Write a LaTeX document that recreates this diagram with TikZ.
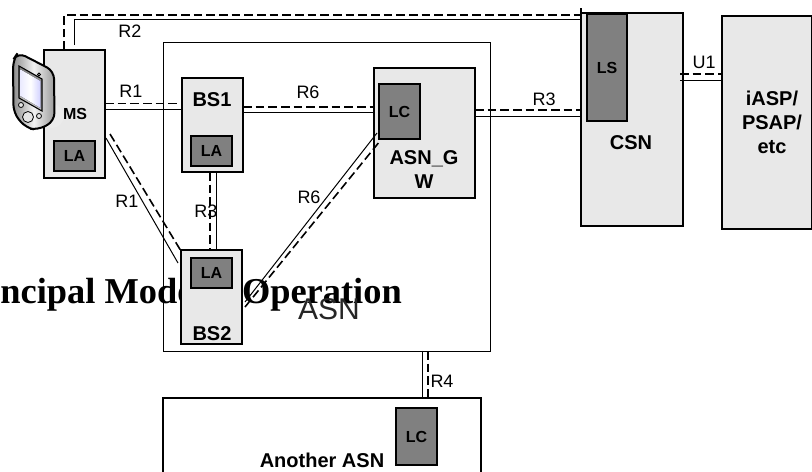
\documentclass[tikz,border=0pt]{standalone}
\usepackage{fontspec}
\setmainfont{Liberation Sans}
\newfontfamily\titlefont{Liberation Serif}
\definecolor{boxgray}{RGB}{232,232,232}
\definecolor{locgray}{RGB}{128,128,128}
\tikzset{
  netbox/.style={draw,line width=1pt,fill=boxgray,anchor=north west,inner sep=0pt,outer sep=0pt},
  locbox/.style={draw,line width=1pt,fill=locgray,anchor=north west,inner sep=0pt,outer sep=0pt},
  boxlabel/.style={font=\bfseries\fontsize{15}{18}\selectfont,align=center,inner sep=0pt},
  loclabel/.style={font=\bfseries\fontsize{12}{14}\selectfont,inner sep=0pt},
  iflabel/.style={font=\fontsize{13.5}{16}\selectfont,text=black,inner sep=0pt},
  solidlink/.style={line width=0.75pt},
  dashlink/.style={line width=1.2pt,dash pattern=on 6.5pt off 3pt},
}
\begin{document}
\begin{tikzpicture}[x=0.75pt,y=-0.75pt]
  \useasboundingbox (0,0) rectangle (812,471);
  \clip (0,0) rectangle (812,471);
  % outer areas
  \node[draw,line width=0.75pt,fill=white,anchor=north west,inner sep=0pt,outer sep=0pt,minimum width=244.9pt,minimum height=231.75pt] (asn) at (163.5,42) {};
  \node[anchor=base east,inner sep=0pt,font=\titlefont\bfseries\fontsize{27.3}{32}\selectfont] (title) at (402,303) {Principal Mode of Operation};
  \node[inner sep=0pt,font=\fontsize{22.5}{26}\selectfont,text=black!85] (asnname) at (329,309) {ASN};
  \node[netbox,fill=white,minimum width=238.5pt,minimum height=61.5pt] (other) at (163,398) {};
  \node[netbox,minimum width=76.5pt,minimum height=159.75pt] (csn) at (581,13) {};
  \node[netbox,minimum width=67.5pt,minimum height=159.75pt] (iasp) at (722,16) {};
  % links
  \draw[dashlink] (64,50) -- (64,15) -- (csn.west |- 0,15);
  \draw[solidlink] (74,45) -- (74,19.5) -- (csn.west |- 0,19.5);
  \draw[line width=1pt] (csn.north west) -- ++(0,-5);
  \node[netbox,minimum width=45.75pt,minimum height=96pt] (ms) at (44,50) {};
  \node[netbox,minimum width=45.75pt,minimum height=70.5pt] (bs1) at (182,78) {};
  \node[netbox,minimum width=45.75pt,minimum height=70.5pt] (bs2) at (181,250) {};
  \node[netbox,minimum width=75.75pt,minimum height=97.5pt] (gw) at (374,68) {};
  \draw[dashlink] (ms.east |- 0,103.5) -- (bs1.west |- 0,103.5);
  \draw[solidlink] (ms.east |- 0,109.5) -- (bs1.west |- 0,109.5);
  \draw[dashlink] (bs1.east |- 0,107) -- (gw.west |- 0,107);
  \draw[solidlink] (bs1.east |- 0,112) -- (gw.west |- 0,112);
  \draw[dashlink] (gw.east |- 0,110) -- (csn.west |- 0,110);
  \draw[solidlink] (gw.east |- 0,116.5) -- (csn.west |- 0,116.5);
  \draw[dashlink] (680,74) -- (iasp.west |- 0,74);
  \draw[solidlink] (680,80) -- (iasp.west |- 0,80);
  \draw[dashlink] (210,172) -- (210,250);
  \draw[solidlink] (216,172) -- (216,250);
  \draw[solidlink] (asn.south -| 422,0) -- (other.north -| 422,0);
  \draw[dashlink] (asn.south -| 428,0) -- (other.north -| 428,0);
  \coordinate (msa) at (106,138);
  \coordinate (msb) at (110,134);
  \coordinate (bsa) at (178,263);
  \coordinate (bsb) at (181,251);
  \draw[solidlink] (msa) -- (bsa);
  \draw[dashlink] (msb) -- (bsb);
  \coordinate (bsc) at (245,302);
  \coordinate (bsd) at (245,307);
  \coordinate (gwa) at (377,133);
  \coordinate (gwb) at (380,141);
  \draw[solidlink] (bsc) -- (gwa);
  \draw[dashlink] (bsd) -- (gwb);
  % location functions
  \node[locbox,minimum width=30.75pt,minimum height=22.5pt] (msla) at (54,141) {};
  \node[locbox,minimum width=30.75pt,minimum height=22.5pt] (bs1la) at (191,136) {};
  \node[locbox,minimum width=30.75pt,minimum height=22.5pt] (bs2la) at (191,258) {};
  \node[locbox,minimum width=30.75pt,minimum height=41.25pt] (gwlc) at (379,84) {};
  \node[locbox,minimum width=30pt,minimum height=80.25pt] (csnls) at (587,14) {};
  \node[locbox,minimum width=30.75pt,minimum height=42.75pt] (otherlc) at (396,408) {};
  \node[loclabel] at (msla) {LA};
  \node[loclabel] at (bs1la) {LA};
  \node[loclabel] at (bs2la) {LA};
  \node[loclabel] at (gwlc) {LC};
  \node[loclabel] at (csnls) {LS};
  \node[loclabel] at (otherlc) {LC};
  % names
  \node[loclabel] (msname) at (75,114) {MS};
  \node[boxlabel] (bs1name) at (212,100) {BS1};
  \node[boxlabel] (bs2name) at (212,334) {BS2};
  \node[boxlabel] (gwname) at (424,169.5) {ASN\_G\\W};
  \node[boxlabel] (csnname) at (631,143) {CSN};
  \node[boxlabel] (iaspname) at (772,122) {iASP/\\PSAP/\\etc};
  \node[boxlabel] (othername) at (322,460) {Another ASN};
  % interface names
  \node[iflabel] (r2) at (130,31) {R2};
  \node[iflabel] (r1a) at (131,91) {R1};
  \node[iflabel] (r1b) at (127,201) {R1};
  \node[iflabel] (r3a) at (206,211) {R3};
  \node[iflabel] (r6a) at (308,92) {R6};
  \node[iflabel] (r6b) at (309,197) {R6};
  \node[iflabel] (r3b) at (544,99) {R3};
  \node[iflabel] (u1) at (704,62) {U1};
  \node[iflabel] (r4) at (442,381) {R4};
  % handset
  \fill[black!8] (52,116) circle (12);
  \draw[line width=1.5pt,left color=black!45,right color=black!40,middle color=black!5,rounded corners=6]
    (13,60) -- (18,52.5) -- (54,71) -- (54.5,121) -- (38,130) -- (26,128) -- (13.5,113) -- cycle;
  \draw[line width=0.8pt,top color=black!50,bottom color=black!20] (19,66) -- (42,79) -- (42,111) -- (19,98) -- cycle;
  \fill[left color=blue!8,right color=blue!18!white,middle color=white] (20.5,69.5) -- (40.5,81) -- (40.5,108) -- (20.5,96) -- cycle;
  \draw[line width=0.6pt,fill=black!10] (39,74.5) circle (1.5);
  \draw[line width=0.6pt,fill=black!10] (21,105) circle (2.5);
  \draw[line width=0.6pt,fill=black!10] (28,117) circle (5.5);
  \draw[line width=0.6pt,fill=black!10] (39,116) circle (2.5);
\end{tikzpicture}
\end{document}
